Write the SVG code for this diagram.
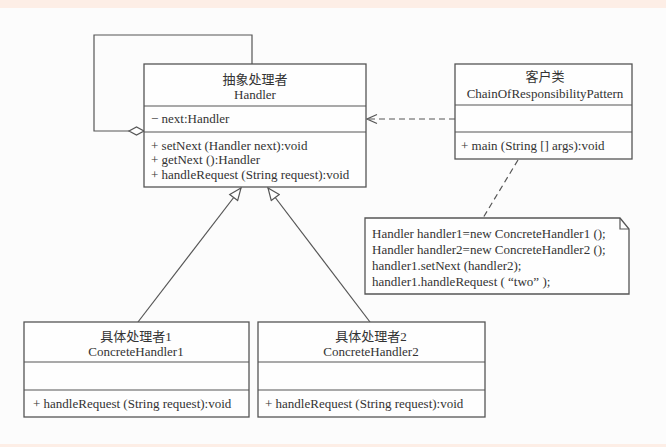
<svg xmlns="http://www.w3.org/2000/svg" width="666" height="447" viewBox="0 0 666 447">
<defs>
<style>
.box{fill:#fefefe;stroke:#555;stroke-width:1.3}
.ln{fill:none;stroke:#555;stroke-width:1.2}
.dash{fill:none;stroke:#555;stroke-width:1.2;stroke-dasharray:6 4}
text{font-family:"Liberation Serif","Noto Sans CJK SC",serif;font-size:13px;fill:#333}
.c{text-anchor:middle}
</style>
<marker id="tri" markerWidth="14" markerHeight="12" refX="13" refY="6" orient="auto" markerUnits="userSpaceOnUse">
<path d="M1,1 L13,6 L1,11 Z" fill="#fefefe" stroke="#555" stroke-width="1.2"/>
</marker>
<marker id="open" markerWidth="12" markerHeight="12" refX="11" refY="6" orient="auto" markerUnits="userSpaceOnUse">
<path d="M1,1.5 L11,6 L1,10.5" fill="none" stroke="#555" stroke-width="1.2"/>
</marker>
</defs>
<rect x="0" y="0" width="666" height="447" fill="#fcfcfc"/>
<rect x="0" y="0" width="666" height="8" fill="#fdeee6"/>
<rect x="0" y="444" width="666" height="3" fill="#fdeee6"/>
<g id="connectors">
<path class="ln" d="M252,64 L252,35 L94,35 L94,131 L129,131"/>
<path d="M129,131 L136.5,127 L144,131 L136.5,135 Z" fill="#fefefe" stroke="#555" stroke-width="1.2"/>
<line class="dash" x1="455" y1="119" x2="367" y2="119" marker-end="url(#open)"/>
<line class="dash" x1="518" y1="160" x2="483" y2="218"/>
<line class="ln" x1="138" y1="322" x2="241" y2="188" marker-end="url(#tri)"/>
<line class="ln" x1="370" y1="322" x2="268" y2="188" marker-end="url(#tri)"/>
</g>
<g id="handler">
<rect class="box" x="144" y="64" width="222" height="123"/>
<line class="ln" x1="144" y1="106" x2="366" y2="106"/>
<line class="ln" x1="144" y1="132" x2="366" y2="132"/>
<text class="c" x="255" y="84">抽象处理者</text>
<text class="c" x="255" y="99">Handler</text>
<text x="151" y="123">− next:Handler</text>
<text x="151" y="150">+ setNext (Handler next):void</text>
<text x="151" y="164">+ getNext ():Handler</text>
<text x="151" y="179">+ handleRequest (String request):void</text>
</g>
<g id="client">
<rect class="box" x="455" y="64" width="177" height="95"/>
<line class="ln" x1="455" y1="105" x2="632" y2="105"/>
<line class="ln" x1="455" y1="132" x2="632" y2="132"/>
<text class="c" x="545" y="81">客户类</text>
<text class="c" x="545" y="98">ChainOfResponsibilityPattern</text>
<text x="461" y="150">+ main (String [] args):void</text>
</g>
<g id="note">
<path class="box" d="M365,218 L620,218 L629,229 L629,294 L365,294 Z"/>
<path class="ln" d="M620,218 L620,229 L629,229"/>
<text x="372" y="238">Handler handler1=new ConcreteHandler1 ();</text>
<text x="372" y="254">Handler handler2=new ConcreteHandler2 ();</text>
<text x="372" y="270">handler1.setNext (handler2);</text>
<text x="372" y="286">handler1.handleRequest ( “two” );</text>
</g>
<g id="concrete1">
<rect class="box" x="24" y="322" width="225" height="95"/>
<line class="ln" x1="24" y1="362" x2="249" y2="362"/>
<line class="ln" x1="24" y1="390" x2="249" y2="390"/>
<text class="c" x="136" y="341">具体处理者1</text>
<text class="c" x="136" y="356">ConcreteHandler1</text>
<text x="33" y="408">+ handleRequest (String request):void</text>
</g>
<g id="concrete2">
<rect class="box" x="258" y="322" width="227" height="95"/>
<line class="ln" x1="258" y1="362" x2="485" y2="362"/>
<line class="ln" x1="258" y1="390" x2="485" y2="390"/>
<text class="c" x="371" y="341">具体处理者2</text>
<text class="c" x="371" y="356">ConcreteHandler2</text>
<text x="265" y="408">+ handleRequest (String request):void</text>
</g>
</svg>
